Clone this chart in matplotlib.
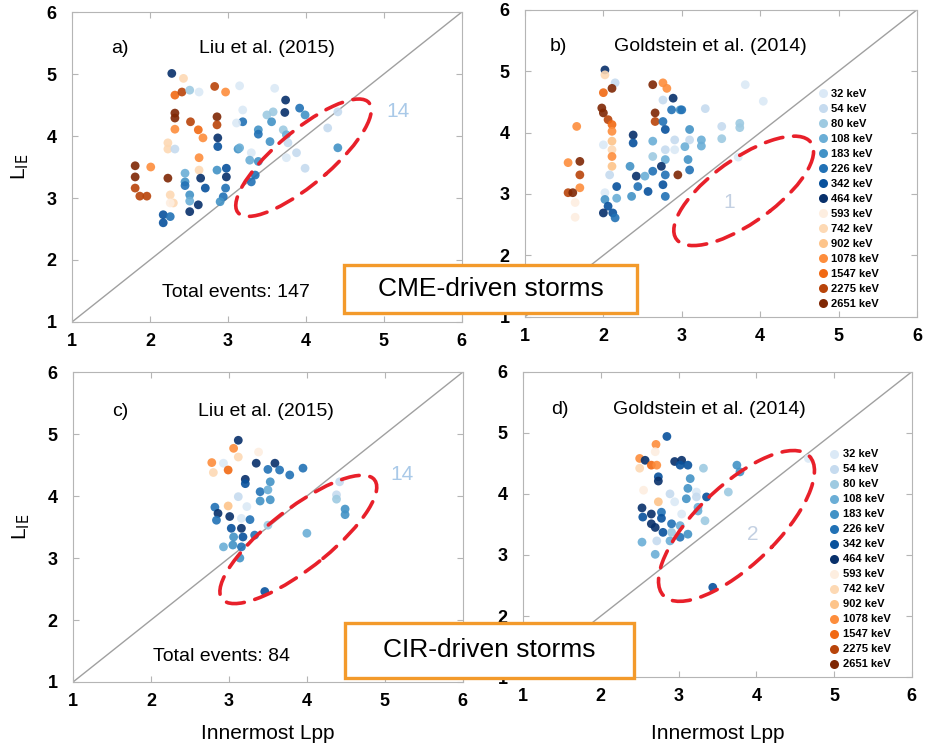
import numpy as np
import matplotlib
matplotlib.use("Agg")
import matplotlib.pyplot as plt
from matplotlib.patches import Ellipse, Rectangle
from matplotlib.lines import Line2D

plt.rcParams['font.family'] = ['Liberation Sans', 'DejaVu Sans']

# energy channels (keV) and their colours
energies = [32, 54, 80, 108, 183, 226, 342, 464, 593, 742, 902, 1078, 1547, 2275, 2651]
blues = ['#dbe9f6', '#c6dbef', '#9ecae1', '#6baed6', '#4292c6', '#2171b5', '#08519c', '#08306b']
oranges = ['#fdeee0', '#fdd9b4', '#fdc48a', '#fd8d3c', '#f16913', '#b8440a', '#7f2704']
chan_colors = blues + oranges

# panel a) CME, Liu et al. (2015): Lpp, L_IE, channel index
a_x = [2.28, 2.43, 2.32, 2.41, 2.51, 2.63, 2.83, 2.97, 3.15, 2.32, 2.32, 2.32, 2.52, 2.62, 2.68,
       2.86, 2.86, 2.87, 2.87, 3.19, 3.19, 3.11, 3.13, 2.23, 2.23, 2.32, 2.63, 2.63, 1.81, 2.01,
       1.81, 1.81, 1.87, 1.96, 2.23, 2.45, 2.45, 2.45, 2.65, 2.71, 2.86, 2.98, 2.98, 2.97, 2.94,
       2.90, 2.26, 2.30, 2.26, 2.51, 2.51, 2.62, 2.51, 2.17, 2.17, 2.26, 3.60, 3.74, 3.73, 3.92,
       3.99, 3.39, 3.39, 3.50, 3.58, 3.56, 3.71, 3.75, 3.54, 3.77, 3.88, 3.75, 3.99, 4.28, 4.41,
       4.41, 3.15, 3.30, 3.28, 3.39, 3.35, 3.30]
a_y = [5.01, 4.93, 4.66, 4.71, 4.74, 4.71, 4.80, 4.71, 4.81, 4.37, 4.29, 4.11, 4.23, 4.10, 3.97,
       4.31, 4.18, 3.97, 3.83, 4.42, 4.23, 4.21, 3.79, 3.89, 3.79, 3.79, 3.65, 3.45, 3.52, 3.50,
       3.34, 3.16, 3.03, 3.03, 3.32, 3.40, 3.26, 3.20, 3.32, 3.16, 3.45, 3.48, 3.34, 3.16, 3.02,
       2.94, 3.05, 2.92, 2.92, 3.05, 2.95, 2.89, 2.78, 2.73, 2.60, 2.70, 4.77, 4.58, 4.38, 4.45,
       4.34, 4.10, 4.03, 4.34, 4.39, 4.23, 4.10, 4.02, 3.91, 3.89, 3.73, 3.65, 3.48, 4.13, 4.39,
       3.81, 3.81, 3.73, 3.61, 3.59, 3.37, 3.26]
a_ch = [7, 9, 12, 13, 2, 0, 13, 11, 0, 14, 14, 11, 13, 12, 11,
        14, 13, 7, 6, 0, 5, 0, 4, 9, 9, 1, 11, 9, 14, 11,
        14, 13, 13, 13, 14, 3, 4, 5, 7, 6, 4, 6, 7, 5, 5,
        4, 9, 9, 8, 4, 3, 7, 7, 6, 6, 5, 0, 7, 7, 5,
        4, 4, 5, 2, 2, 4, 2, 3, 4, 1, 1, 0, 1, 1, 1,
        4, 3, 0, 3, 4, 5, 5]

# panel b) CME, Goldstein et al. (2014)
b_x = [2.02, 2.02, 2.15, 2.11, 2.00, 2.63, 2.76, 2.81, 2.89, 2.76, 1.98, 2.00, 2.06, 2.11, 2.11,
       2.11, 2.11, 2.11, 2.00, 1.66, 2.66, 2.66, 2.76, 2.79, 2.87, 2.98, 2.38, 2.38, 2.63, 2.91,
       2.63, 2.79, 2.91, 2.79, 1.55, 1.70, 1.70, 1.70, 1.55, 1.61, 1.64, 1.64, 2.11, 2.08, 2.34,
       2.42, 2.53, 2.63, 2.74, 2.79, 2.95, 2.17, 2.44, 2.57, 2.36, 2.76, 2.79, 2.02, 2.02, 2.06,
       2.00, 2.12, 2.15, 2.17, 3.81, 4.04, 3.30, 3.00, 3.51, 3.74, 3.74, 3.10, 3.51, 3.25, 3.25,
       3.10, 3.04, 3.72, 3.08, 3.10]
b_y = [5.02, 4.94, 4.81, 4.72, 4.65, 4.78, 4.81, 4.72, 4.56, 4.53, 4.40, 4.32, 4.21, 4.13, 4.02,
       3.86, 3.72, 3.61, 3.80, 4.10, 4.32, 4.18, 4.18, 4.05, 4.37, 4.37, 3.96, 3.83, 3.86, 3.88,
       3.61, 3.72, 3.72, 3.56, 3.51, 3.53, 3.31, 3.10, 3.02, 3.02, 2.86, 2.62, 3.45, 3.31, 3.45,
       3.29, 3.29, 3.37, 3.45, 3.31, 3.31, 3.12, 3.12, 3.04, 2.96, 3.15, 2.96, 3.02, 2.91, 2.80,
       2.69, 2.69, 2.61, 2.93, 4.78, 4.51, 4.39, 4.37, 4.10, 4.15, 4.08, 4.05, 3.90, 3.88, 3.78,
       3.88, 3.77, 3.60, 3.56, 3.39]
b_ch = [7, 9, 1, 14, 12, 14, 11, 11, 7, 1, 14, 14, 13, 12, 11,
        10, 9, 11, 0, 11, 14, 13, 5, 6, 5, 4, 7, 6, 3, 1,
        2, 1, 0, 3, 11, 14, 13, 11, 13, 14, 8, 8, 10, 1, 4,
        7, 3, 5, 7, 5, 14, 6, 5, 6, 4, 6, 5, 0, 4, 6,
        7, 6, 5, 3, 0, 0, 1, 5, 1, 2, 2, 4, 2, 3, 3,
        1, 3, 0, 4, 5]

# panel c) CIR, Liu et al. (2015)
c_x = [3.12, 3.06, 3.12, 3.38, 2.78, 2.93, 2.80, 2.99, 3.35, 3.59, 3.50, 3.65, 3.78, 3.95, 3.21,
       3.21, 3.53, 3.40, 3.50, 3.53, 3.40, 3.12, 2.99, 3.23, 2.82, 2.86, 2.84, 3.01, 3.16, 3.27,
       3.03, 3.16, 3.06, 3.18, 3.33, 3.50, 2.93, 3.05, 3.16, 3.14, 4.00, 4.42, 4.38, 4.38, 4.49,
       4.49, 3.46]
c_y = [4.90, 4.77, 4.63, 4.71, 4.54, 4.53, 4.38, 4.42, 4.53, 4.53, 4.43, 4.42, 4.34, 4.45, 4.27,
       4.20, 4.23, 4.07, 4.10, 3.94, 3.92, 3.99, 3.84, 3.83, 3.82, 3.72, 3.61, 3.67, 3.64, 3.62,
       3.48, 3.48, 3.34, 3.34, 3.37, 3.53, 3.18, 3.21, 3.18, 3.00, 3.40, 4.23, 4.02, 3.95, 3.79,
       3.70, 2.46]
c_ch = [7, 11, 9, 8, 11, 0, 9, 12, 7, 7, 5, 5, 5, 5, 7,
        6, 4, 5, 3, 4, 4, 1, 10, 0, 5, 7, 5, 7, 0, 5,
        6, 7, 4, 6, 5, 2, 3, 4, 5, 4, 3, 1, 1, 2, 4,
        4, 6]

# panel d) CIR, Goldstein et al. (2014)
d_x = [2.85, 2.71, 2.70, 2.50, 2.50, 2.57, 2.65, 2.72, 2.74, 2.74, 2.95, 3.04, 3.02, 3.12, 3.32,
       3.15, 3.12, 3.10, 2.89, 2.95, 3.23, 3.23, 3.36, 3.25, 3.25, 3.34, 2.55, 2.74, 2.53, 2.54,
       2.65, 2.78, 2.78, 2.65, 2.70, 2.91, 2.80, 3.04, 3.02, 2.91, 3.02, 3.12, 2.72, 2.53, 2.89,
       2.70, 3.75, 3.79, 3.64, 4.67, 3.44]
d_y = [4.94, 4.81, 4.69, 4.58, 4.42, 4.55, 4.47, 4.47, 4.28, 4.21, 4.53, 4.55, 4.47, 4.47, 4.42,
       4.25, 4.09, 3.92, 4.00, 3.87, 4.03, 3.95, 3.95, 3.78, 3.72, 3.56, 4.06, 3.87, 3.77, 3.62,
       3.67, 3.70, 3.60, 3.51, 3.45, 3.51, 3.37, 3.67, 3.48, 3.37, 3.29, 3.34, 3.23, 3.21, 3.23,
       3.01, 4.47, 4.36, 4.03, 4.58, 2.47]
d_ch = [6, 11, 8, 11, 9, 7, 12, 11, 6, 7, 7, 7, 6, 6, 2,
        4, 4, 4, 1, 0, 0, 1, 6, 3, 3, 2, 8, 10, 7, 6,
        7, 5, 6, 7, 7, 5, 6, 0, 3, 2, 5, 4, 1, 3, 3,
        3, 4, 4, 2, 0, 6]

# red loops: centre x, centre y, width, height, angle ; count label and its position
loops = {'a': (3.97, 3.65, 2.45, 0.78, 48), 'b': (3.79, 3.05, 2.34, 0.94, 45),
         'c': (3.89, 3.30, 2.75, 0.88, 46), 'd': (3.745, 3.475, 2.97, 1.14, 53)}
counts = {'a': ('14', 5.18, 4.39, '#a9c9e8'), 'b': ('1', 3.61, 2.86, '#c3d0e2'),
          'c': ('14', 5.22, 4.34, '#a9c9e8'), 'd': ('2', 3.96, 3.34, '#c3d0e2')}

fig = plt.figure(figsize=(9.28, 7.54), dpi=100)

def panel(rect, key, xs, ys, chs, title, ttl_pos, total=None, legend=False, xlabel=None, ylabel=False):
    ax = fig.add_axes(rect)
    ax.set_xlim(1, 6)
    ax.set_ylim(1, 6)
    ax.plot([1, 6], [1, 6], color='#a0a0a0', lw=1.0, zorder=1)
    cols = [chan_colors[c] for c in chs]
    ax.scatter(xs, ys, s=40, c=cols, alpha=0.9, linewidths=0, zorder=2)
    cx, cy, w, h, ang = loops[key]
    ax.add_patch(Ellipse((cx, cy), w, h, angle=ang, fill=False, ec='#e8202a', lw=2.6,
                         ls=(0, (5, 3)), capstyle='round', zorder=3))
    t, tx, ty, tc = counts[key]
    ax.text(tx, ty, t, color=tc, fontsize=15, ha='center', va='center')
    ax.text(ttl_pos[0], ttl_pos[2], key + ')', fontsize=14, ha='center', va='center')
    ax.text(ttl_pos[1], ttl_pos[2], title, fontsize=14, ha='center', va='center')
    if total:
        ax.text(total[1], total[2], total[0], fontsize=14, ha='center', va='center')
    for s in ax.spines.values():
        s.set_color('#b5b5b5')
    ax.tick_params(direction='in', length=4, color='#b5b5b5', top=True, right=True,
                   labelsize=13)
    ax.tick_params(axis='x', pad=8)
    ax.tick_params(axis='y', pad=11)
    ax.set_xticks(range(1, 7))
    ax.set_yticks(range(1, 7))
    for lab in ax.get_xticklabels() + ax.get_yticklabels():
        lab.set_fontweight('bold')
    if legend:
        handles = [Line2D([], [], ls='none', marker='o', ms=6.5, mfc=chan_colors[i], mec='none',
                          label='%d keV' % e) for i, e in enumerate(energies)]
        ax.legend(handles=handles, loc='lower left', bbox_to_anchor=legend, frameon=False,
                  prop={'size': 8, 'weight': 'bold'}, labelspacing=0.45, handletextpad=0.3,
                  handlelength=1.0, borderpad=0, borderaxespad=0)
    if xlabel:
        ax.set_xlabel('Innermost Lpp', fontsize=15)
        ax.xaxis.set_label_coords(0.5, xlabel)
    if ylabel:
        ax.set_ylabel(r'L$_{\mathrm{IE}}$', fontsize=15)
        ax.yaxis.set_label_coords(-0.105, 0.5)
    return ax

panel([0.0776, 0.573, 0.420, 0.411], 'a', a_x, a_y, a_ch, 'Liu et al. (2015)', (1.62, 3.5, 5.42),
      total=('Total events: 147', 3.10, 1.47), ylabel=True)
panel([0.5657, 0.580, 0.4224, 0.407], 'b', b_x, b_y, b_ch, 'Goldstein et al. (2014)', (1.42, 3.36, 5.40),
      legend=(0.745, 0.025))
panel([0.0787, 0.0955, 0.420, 0.411], 'c', c_x, c_y, c_ch, 'Liu et al. (2015)', (1.60, 3.48, 5.36),
      total=('Total events: 84', 2.91, 1.41), xlabel=-0.135, ylabel=True)
panel([0.5636, 0.102, 0.419, 0.405], 'd', d_x, d_y, d_ch, 'Goldstein et al. (2014)', (1.48, 3.40, 5.38),
      legend=(0.785, 0.025), xlabel=-0.155)

# storm type boxes
for (x0, y0, w, h, txt) in [(0.371, 0.585, 0.315, 0.064, 'CME-driven storms'),
                            (0.372, 0.101, 0.311, 0.073, 'CIR-driven storms')]:
    fig.patches.append(Rectangle((x0, y0), w, h, transform=fig.transFigure, fc='white',
                                 ec='#f39a2b', lw=2.4, zorder=5))
    fig.text(x0 + w / 2, y0 + h / 2, txt, fontsize=19, ha='center', va='center', zorder=6)

fig.savefig('out.png', dpi=100)
